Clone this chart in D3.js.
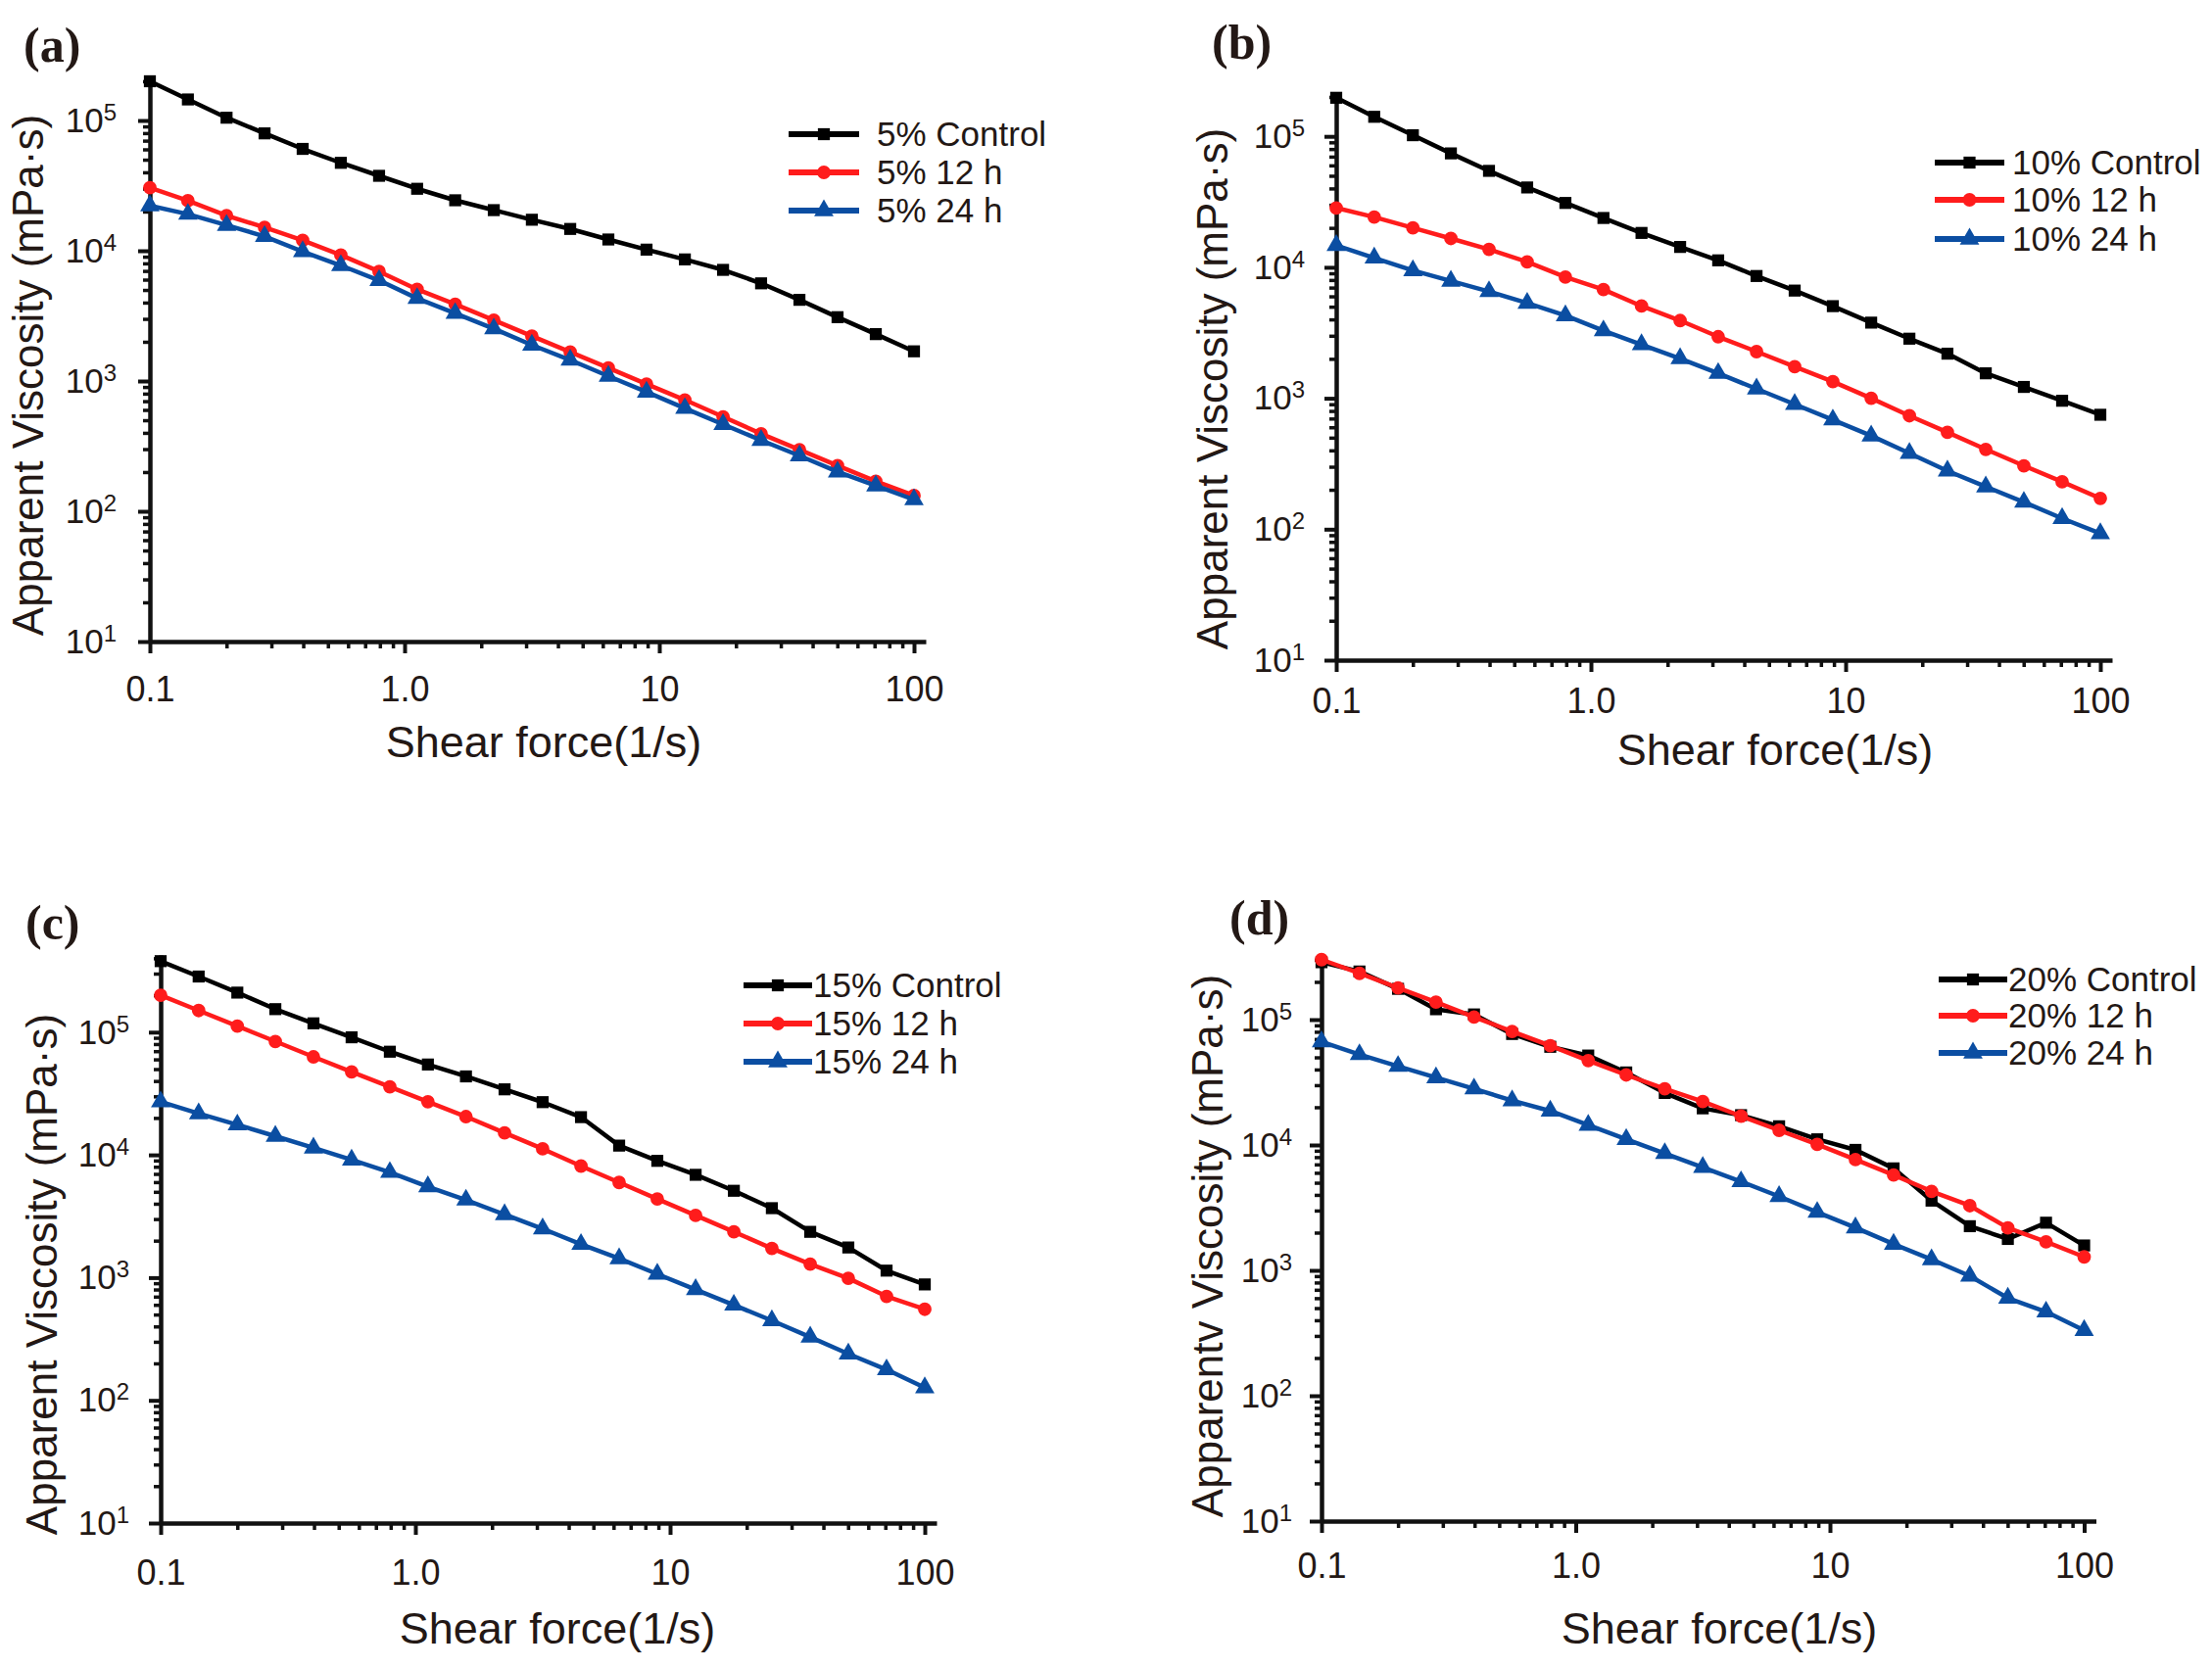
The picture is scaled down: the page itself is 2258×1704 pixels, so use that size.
<!DOCTYPE html>
<html>
<head>
<meta charset="utf-8">
<script src="https://cdn.jsdelivr.net/npm/d3@7"></script>
<style>
body { margin: 0; background: #fff; }
svg { display: block; }
text { font-family: "Liberation Sans", Arial, sans-serif; fill: #231815; }
</style>
</head>
<body>
<svg id="chart" width="2258" height="1704"></svg>
<script>
// shear rate points (1/s), same for every panel
var xShear = [0.1, 0.141, 0.2, 0.282, 0.398, 0.562, 0.794, 1.12, 1.58, 2.24, 3.16, 4.47, 6.31, 8.91, 12.6, 17.8, 25.1, 35.5, 50.1, 70.8, 100];
var xTickValues = [0.1, 1, 10, 100];
var xTickLabels = ["0.1", "1.0", "10", "100"];
var yTickValues = [10, 100, 1000, 10000, 100000];
var yTickExponents = ["1", "2", "3", "4", "5"];

// (a) 5%
var a_control = [200000, 145000, 105000, 79600, 60500, 47300, 37600, 29900, 24400, 20500, 17300, 14700, 12200, 10200, 8580, 7130, 5620, 4200, 3090, 2290, 1690];
var a_12h = [30500, 24200, 18600, 15100, 12000, 9270, 6930, 5050, 3880, 2930, 2210, 1670, 1260, 948, 716, 531, 394, 297, 224, 170, 132];
var a_24h = [22200, 19100, 15700, 12900, 9860, 7710, 5920, 4310, 3310, 2520, 1890, 1450, 1090, 824, 617, 465, 351, 267, 201, 157, 123];
var a_names = ["5% Control", "5% 12 h", "5% 24 h"];

// (b) 10%
var b_control = [197000, 141000, 102000, 74100, 54500, 40700, 31000, 23800, 18300, 14300, 11300, 8580, 6640, 5050, 3780, 2850, 2190, 1550, 1220, 957, 748];
var b_12h = [28400, 24200, 20000, 16600, 13700, 11000, 8420, 6760, 5060, 3920, 2950, 2270, 1740, 1340, 1000, 735, 550, 407, 305, 230, 172];
var b_24h = [14700, 11800, 9450, 7850, 6530, 5330, 4280, 3280, 2570, 2010, 1550, 1180, 900, 685, 517, 380, 279, 211, 161, 121, 92.7];
var b_names = ["10% Control", "10% 12 h", "10% 24 h"];

// (c) 15%
var c_control = [379000, 284000, 210000, 154000, 118000, 90800, 69300, 54500, 43600, 34200, 26900, 20300, 11900, 8940, 6880, 5100, 3680, 2360, 1760, 1140, 880];
var c_12h = [200000, 150000, 112000, 84000, 62900, 47500, 35900, 27100, 20500, 15100, 11200, 8110, 5960, 4370, 3210, 2360, 1730, 1290, 987, 703, 552];
var c_24h = [27100, 21700, 17600, 14200, 11400, 9110, 7220, 5510, 4290, 3270, 2500, 1870, 1430, 1070, 800, 598, 447, 328, 239, 178, 127];
var c_names = ["15% Control", "15% 12 h", "15% 24 h"];

// (d) 20%
var d_control = [287000, 242000, 176000, 121000, 110000, 76800, 60700, 51700, 37900, 26000, 19600, 17300, 14100, 11100, 9140, 6510, 3600, 2250, 1780, 2400, 1580];
var d_12h = [301000, 234000, 179000, 138000, 105000, 80500, 61900, 47100, 36200, 28100, 22200, 17000, 13100, 10100, 7650, 5770, 4270, 3280, 2180, 1690, 1280];
var d_24h = [66700, 52700, 42500, 34500, 28100, 22600, 18700, 14400, 11100, 8570, 6640, 5110, 3890, 2910, 2190, 1620, 1220, 902, 601, 467, 332];
var d_names = ["20% Control", "20% 12 h", "20% 24 h"];

var seriesColors = ["#000000", "#ff1c1c", "#0b4ea2"];
var seriesSymbols = [d3.symbolSquare, d3.symbolCircle, d3.symbolTriangle];
var symbolSizes = [150, 150, 170];

var panels = [
    { tag: "(a)", series: [a_control, a_12h, a_24h], names: a_names, yTitle: "Apparent Viscosity (mPa\u00b7s)",
      left: 153, decX: 260, bottom: 655, top: 78, decY: 133, yPad: 22,
      tagX: 24, tagY: 63, xTitleX: 555, xTitleY: 773, yTitleX: 44, yTitleY: 383, xLabY: 703,
      legX1: 805, legX2: 877, legTx: 895, legY: [137, 176, 215] },
    { tag: "(b)", series: [b_control, b_12h, b_24h], names: b_names, yTitle: "Apparent Viscosity (mPa\u00b7s)",
      left: 1364, decX: 260, bottom: 674, top: 94, decY: 133.7, yPad: 20,
      tagX: 1237, tagY: 60, xTitleX: 1812, xTitleY: 781, yTitleX: 1253, yTitleY: 397, xLabY: 715,
      legX1: 1975, legX2: 2046, legTx: 2054, legY: [166, 204, 244] },
    { tag: "(c)", series: [c_control, c_12h, c_24h], names: c_names, yTitle: "Apparent Viscosity (mPa\u00b7s)",
      left: 164, decX: 260, bottom: 1555, top: 975, decY: 125.3, yPad: 20,
      tagX: 26, tagY: 959, xTitleX: 569, xTitleY: 1678, yTitleX: 58, yTitleY: 1301, xLabY: 1605,
      legX1: 759, legX2: 829, legTx: 830, legY: [1006, 1045, 1084] },
    { tag: "(d)", series: [d_control, d_12h, d_24h], names: d_names, yTitle: "Apparentv Viscosity (mPa\u00b7s)",
      left: 1349, decX: 259.5, bottom: 1553, top: 975, decY: 128, yPad: 18,
      tagX: 1255, tagY: 954, xTitleX: 1755, xTitleY: 1678, yTitleX: 1248, yTitleY: 1272, xLabY: 1598,
      legX1: 1979, legX2: 2049, legTx: 2050, legY: [1000, 1037, 1075] }
];

var svg = d3.select("#chart");

function minorTicks(lo, hi) {
    var out = [];
    for (var e = -1; e <= 5; e++) {
        for (var k = 2; k <= 9; k++) {
            var v = k * Math.pow(10, e);
            if (v > lo && v < hi) out.push(v);
        }
    }
    return out;
}

function styleAxis(sel) {
    sel.select(".domain").attr("stroke", "#111").attr("stroke-width", 4.5);
    sel.selectAll(".tick line").attr("stroke", "#111").attr("stroke-width", 4);
}

function drawPanel(p) {
    var g = svg.append("g");
    // x axis line runs 12px past 100
    var xEnd = p.left + 3 * p.decX + 12;
    var x = d3.scaleLog()
        .domain([0.1, Math.pow(10, 2 + 12 / p.decX)])
        .range([p.left, xEnd]);
    var yMax = Math.pow(10, 1 + (p.bottom - p.top) / p.decY);
    var y = d3.scaleLog().domain([10, yMax]).range([p.bottom, p.top]);

    // minor ticks first
    var gxm = g.append("g").attr("transform", "translate(0," + p.bottom + ")")
        .call(d3.axisBottom(x).tickValues(minorTicks(0.1, 100)).tickFormat("").tickSize(7).tickSizeOuter(0));
    gxm.select(".domain").remove();
    gxm.selectAll(".tick line").attr("stroke", "#111").attr("stroke-width", 3.5);

    var gym = g.append("g").attr("transform", "translate(" + p.left + ",0)")
        .call(d3.axisLeft(y).tickValues(minorTicks(10, yMax)).tickFormat("").tickSize(7).tickSizeOuter(0));
    gym.select(".domain").remove();
    gym.selectAll(".tick line").attr("stroke", "#111").attr("stroke-width", 3.5);

    var gx = g.append("g").attr("transform", "translate(0," + p.bottom + ")")
        .call(d3.axisBottom(x).tickValues(xTickValues)
            .tickFormat(function (d, i) { return xTickLabels[i]; })
            .tickSize(12).tickPadding(p.xLabY - p.bottom - 12 - 13).tickSizeOuter(0));
    styleAxis(gx);
    gx.selectAll(".tick text").attr("font-size", 36).attr("font-family", "Liberation Sans, Arial, sans-serif").attr("fill", "#231815");

    var gy = g.append("g").attr("transform", "translate(" + p.left + ",0)")
        .call(d3.axisLeft(y).tickValues(yTickValues).tickFormat("").tickSize(12).tickPadding(p.yPad).tickSizeOuter(0));
    styleAxis(gy);
    gy.selectAll(".tick text")
        .attr("font-size", 35)
        .attr("font-family", "Liberation Sans, Arial, sans-serif")
        .attr("fill", "#231815")
        .each(function (d, i) {
            var t = d3.select(this);
            t.text(null);
            t.append("tspan").text("10");
            t.append("tspan").attr("dy", "-0.5em").attr("font-size", 24).text(yTickExponents[i]);
        });

    // series lines and markers
    var line = d3.line()
        .x(function (d, i) { return x(xShear[i]); })
        .y(function (d) { return y(d); });
    p.series.forEach(function (vals, s) {
        g.append("path")
            .datum(vals)
            .attr("d", line)
            .attr("fill", "none")
            .attr("stroke", seriesColors[s])
            .attr("stroke-width", 4.5)
            .attr("stroke-linejoin", "round");
        g.selectAll(null)
            .data(vals)
            .enter().append("path")
            .attr("d", d3.symbol().type(seriesSymbols[s]).size(symbolSizes[s]))
            .attr("transform", function (d, i) { return "translate(" + x(xShear[i]) + "," + y(d) + ")"; })
            .attr("fill", seriesColors[s]);
    });

    // legend
    p.names.forEach(function (name, s) {
        var ly = p.legY[s];
        g.append("line")
            .attr("x1", p.legX1).attr("x2", p.legX2)
            .attr("y1", ly).attr("y2", ly)
            .attr("stroke", seriesColors[s]).attr("stroke-width", 6);
        g.append("path")
            .attr("d", d3.symbol().type(seriesSymbols[s]).size(symbolSizes[s]))
            .attr("transform", "translate(" + ((p.legX1 + p.legX2) / 2) + "," + ly + ")")
            .attr("fill", seriesColors[s]);
        g.append("text")
            .attr("x", p.legTx).attr("y", ly + 12)
            .attr("font-size", 35)
            .text(name);
    });

    // titles
    g.append("text")
        .attr("x", p.xTitleX).attr("y", p.xTitleY)
        .attr("text-anchor", "middle")
        .attr("font-size", 45)
        .text("Shear force(1/s)");
    g.append("text")
        .attr("transform", "translate(" + p.yTitleX + "," + p.yTitleY + ") rotate(-90)")
        .attr("text-anchor", "middle")
        .attr("font-size", 44)
        .text(p.yTitle);
    g.append("text")
        .attr("x", p.tagX).attr("y", p.tagY)
        .attr("font-size", 50)
        .attr("font-weight", "bold")
        .style("font-family", "'Liberation Serif', 'Times New Roman', serif")
        .text(p.tag);
}

panels.forEach(drawPanel);
</script>
</body>
</html>
